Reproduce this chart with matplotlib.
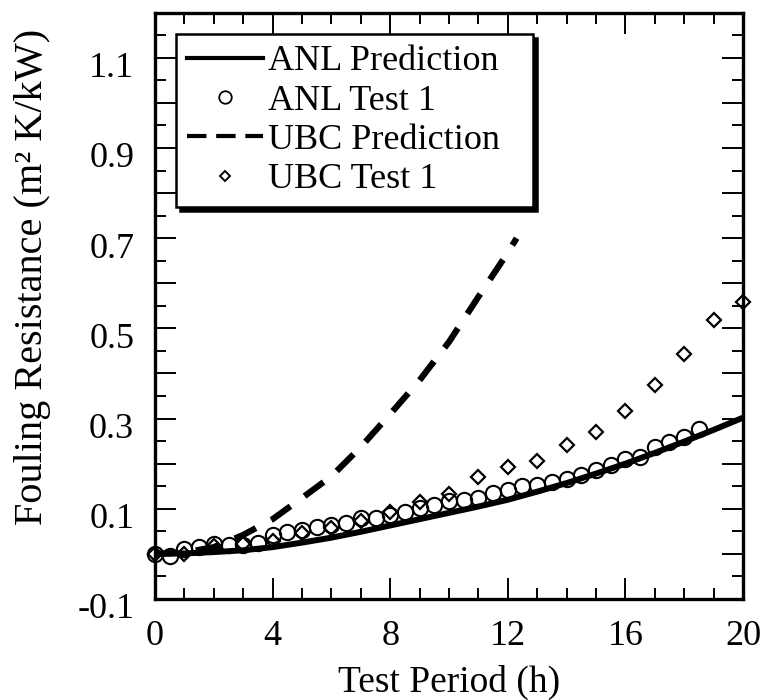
import matplotlib
matplotlib.use("Agg")
import matplotlib.pyplot as plt
from matplotlib.lines import Line2D
from matplotlib.ticker import MultipleLocator, FuncFormatter
from matplotlib.transforms import ScaledTranslation

plt.rcParams['font.family'] = 'serif'
plt.rcParams['font.serif'] = ['Liberation Serif', 'DejaVu Serif']
plt.rcParams['lines.scale_dashes'] = False

# model curves (h, m2 K/kW)
anl_pred_t = [0, 1, 2, 3, 4, 5, 6, 7, 8, 9, 10, 11, 12, 13, 14, 15, 16, 17, 18, 19, 20]
anl_pred_r = [0.0, 0.001, 0.004, 0.008, 0.015, 0.025, 0.036, 0.049, 0.063, 0.077, 0.091,
              0.105, 0.12, 0.138, 0.157, 0.178, 0.2, 0.224, 0.249, 0.275, 0.302]

ubc_pred_t = [0, 1, 2, 3, 4, 5, 6, 7, 8, 9, 10, 11, 12, 12.3]
ubc_pred_r = [0.0, 0.003, 0.015, 0.042, 0.077, 0.124, 0.172, 0.237, 0.31, 0.385, 0.47,
              0.57, 0.668, 0.70]

# measurements
anl_test_t = [0, 0.5, 1, 1.5, 2, 2.5, 3, 3.5, 4, 4.5, 5, 5.5, 6, 6.5, 7, 7.5, 8, 8.5, 9, 9.5,
              10, 10.5, 11, 11.5, 12, 12.5, 13, 13.5, 14, 14.5, 15, 15.5, 16, 16.5, 17, 17.5,
              18, 18.5]
anl_test_r = [0.000, -0.004, 0.011, 0.015, 0.022, 0.020, 0.020, 0.024, 0.041, 0.048, 0.052,
              0.059, 0.063, 0.069, 0.079, 0.079, 0.087, 0.093, 0.102, 0.109, 0.118, 0.120,
              0.123, 0.135, 0.141, 0.150, 0.153, 0.159, 0.167, 0.174, 0.187, 0.198, 0.210,
              0.215, 0.237, 0.248, 0.259, 0.278]

ubc_test_t = [0, 1, 2, 3, 4, 5, 6, 7, 8, 9, 10, 11, 12, 13, 14, 15, 16, 17, 18, 19, 20]
ubc_test_r = [0.0, 0.0, 0.018, 0.022, 0.028, 0.046, 0.057, 0.074, 0.093, 0.115, 0.133, 0.170,
              0.193, 0.205, 0.241, 0.270, 0.316, 0.375, 0.444, 0.518, 0.559]

labels = ['ANL Prediction', 'ANL Test 1', 'UBC Prediction', 'UBC Test 1']

fig = plt.figure(figsize=(7.67, 7.0), dpi=100)
ax = fig.add_axes([0.2021, 0.1443, 0.7666, 0.8376])

ax.plot(ubc_test_t, ubc_test_r, ls='none', marker='D', ms=7, mfc='none', mec='black',
        mew=1.6, clip_on=False, zorder=3)
ax.plot(anl_test_t, anl_test_r, ls='none', marker='o', ms=11, mfc='none', mec='black',
        mew=1.5, clip_on=False, zorder=3)
ax.plot(anl_pred_t, anl_pred_r, color='black', lw=4.3, solid_capstyle='butt', zorder=2)
ax.plot(ubc_pred_t, ubc_pred_r, color='black', lw=4.5, dashes=(17, 12.5), zorder=2)

ax.set_xlim(0, 20)
ax.set_ylim(-0.1, 1.2)
ax.xaxis.set_major_locator(MultipleLocator(4))
ax.xaxis.set_minor_locator(MultipleLocator(1))
ax.yaxis.set_major_locator(MultipleLocator(0.1))
ax.yaxis.set_minor_locator(MultipleLocator(0.05))


def ylab(v, pos):
    k = int(round(v * 10))
    return f'{v:.1f}' if k % 2 else ''


ax.yaxis.set_major_formatter(FuncFormatter(ylab))
ax.xaxis.set_major_formatter(FuncFormatter(lambda v, pos: f'{v:.0f}'))

ax.tick_params(which='both', direction='in', top=True, right=True, width=1.4,
               labelsize=26, colors='black')
ax.tick_params(which='major', length=15)
ax.tick_params(which='minor', length=8)
ax.tick_params(axis='x', pad=15)
ax.tick_params(axis='y', pad=15)
for s in ax.spines.values():
    s.set_linewidth(2.4)
    s.set_zorder(4)

# y labels sit a little below their ticks
shift = ScaledTranslation(0, -0.07, fig.dpi_scale_trans)
for lbl in ax.get_yticklabels():
    lbl.set_transform(lbl.get_transform() + shift)

ax.set_xlabel('Test Period (h)', fontsize=27)
ax.xaxis.set_label_coords(0.5, -0.112)
ax.set_ylabel('Fouling Resistance (m² K/kW)', fontsize=29)
ax.yaxis.set_label_coords(-0.177, 0.55)

handles = [
    Line2D([], [], color='black', lw=3),
    Line2D([], [], ls='none', marker='o', ms=9, mfc='none', mec='black', mew=1.3),
    Line2D([], [], color='black', lw=3, dashes=(14, 7)),
    Line2D([], [], ls='none', marker='D', ms=5.5, mfc='none', mec='black', mew=1.4),
]
leg = ax.legend(handles, labels, loc='upper left',
                bbox_to_anchor=(0.0357, 0.6635, 0.607, 0.300), mode='expand',
                borderaxespad=0, fontsize=26, handlelength=2.1, handletextpad=0.15,
                borderpad=0.3, labelspacing=0.17, fancybox=False, framealpha=1,
                edgecolor='black', shadow={'color': 'black', 'alpha': 1, 'ox': 3, 'oy': -3})
leg.get_frame().set_linewidth(1.8)
leg.set_zorder(5)

fig.savefig('out.png', dpi=100)
